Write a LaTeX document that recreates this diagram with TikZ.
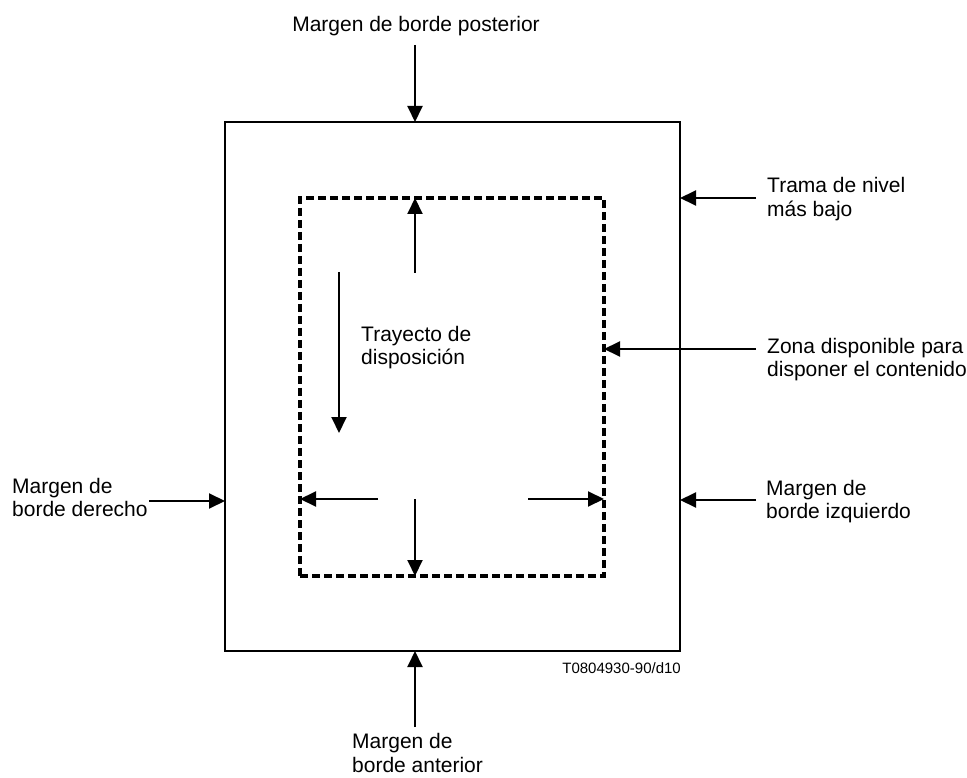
\documentclass[tikz,border=0pt]{standalone}
\usepackage{fontspec}
\setmainfont{Liberation Sans}
\usetikzlibrary{arrows.meta}
\tikzset{
	arr/.style={line width=2pt, -{Triangle[length=16pt,width=15pt]}},
	lbl/.style={inner sep=0pt, align=left, font=\fontsize{21}{23.5}\selectfont},
	codelbl/.style={inner sep=0pt, font=\fontsize{15}{17}\selectfont},
}

\begin{document}
\begin{tikzpicture}[x=1pt, y=-1pt]
	%%%%% START %%%%%
	\useasboundingbox (0,0) rectangle (967,778);

	\node[draw, line width=1.5pt, minimum width=455pt, minimum height=529pt, inner sep=0pt, outer sep=0pt] (frame) at (452.5,386.5) {};
	\node[draw, line width=3.2pt, dash pattern=on 8pt off 4pt, minimum width=304pt, minimum height=378pt, inner sep=0pt, outer sep=0pt] (zone) at (452,387) {};

	% labels (base = last line)
	\node[lbl, anchor=base] (back) at (416,32) {Margen de borde posterior};
	\node[lbl, anchor=base west] (rightm) at (12,516.5) {Margen de\\borde derecho};
	\node[lbl, anchor=base west] (lowest) at (767,216.5) {Trama de nivel\\más bajo};
	\node[lbl, anchor=base west] (avail) at (767,376.5) {Zona disponible para\\disponer el contenido};
	\node[lbl, anchor=base west] (leftm) at (766,518.5) {Margen de\\borde izquierdo};
	\node[lbl, anchor=base west] (front) at (352,772) {Margen de\\borde anterior};
	\node[lbl, anchor=base west] (path) at (361,364.5) {Trayecto de\\disposición};
	\node[codelbl, anchor=base east] (code) at (681,673) {T0804930-90/d10};

	% arrow tails
	\coordinate (backtail) at (415,45);
	\coordinate (fronttail) at (415,727);
	\coordinate (righttail) at (149,501);
	\coordinate (lowtail) at (756,198);
	\coordinate (availtail) at (756,349);
	\coordinate (lefttail) at (756,500);
	\coordinate (uptail) at (415,273);
	\coordinate (downtail) at (415,499);
	\coordinate (wtail) at (378,499);
	\coordinate (etail) at (528,499);
	\coordinate (pathtop) at (339,272);
	\coordinate (pathend) at (339,433);

	\draw[arr] (backtail) -- (backtail |- frame.north);
	\draw[arr] (fronttail) -- (fronttail |- frame.south);
	\draw[arr] (righttail) -- (righttail -| frame.west);
	\draw[arr] (lowtail) -- (lowtail -| frame.east);
	\draw[arr] (availtail) -- (availtail -| zone.east);
	\draw[arr] (lefttail) -- (lefttail -| frame.east);

	\draw[arr] (uptail) -- (uptail |- zone.north);
	\draw[arr] (downtail) -- (downtail |- zone.south);
	\draw[arr] (wtail) -- (wtail -| zone.west);
	\draw[arr] (etail) -- (etail -| zone.east);
	\draw[arr] (pathtop) -- (pathend);
	%%%%% END %%%%%
\end{tikzpicture}
\end{document}
